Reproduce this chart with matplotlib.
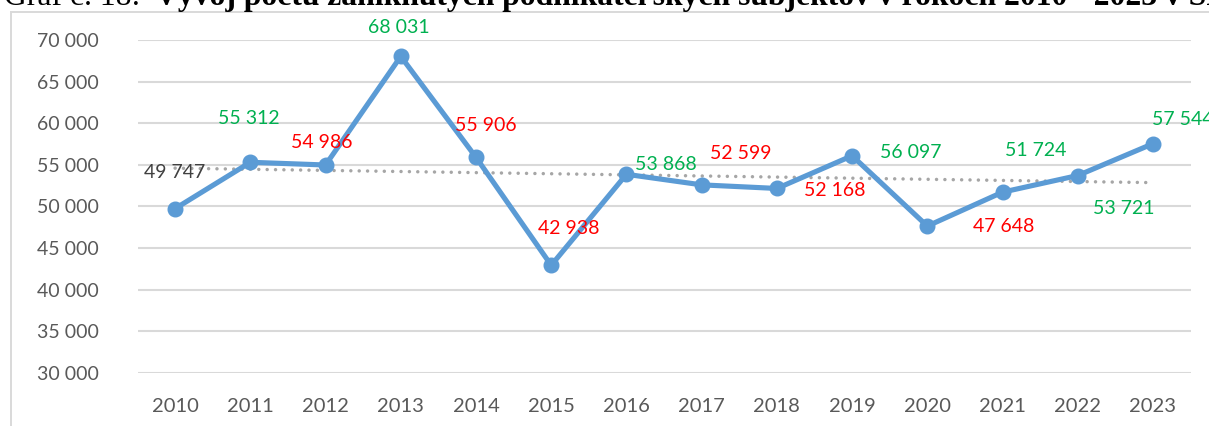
import matplotlib
matplotlib.use("Agg")
import matplotlib.pyplot as plt
import numpy as np
from matplotlib.patches import Rectangle

years = ["2010", "2011", "2012", "2013", "2014", "2015", "2016",
         "2017", "2018", "2019", "2020", "2021", "2022", "2023"]
values = [49747, 55312, 54986, 68031, 55906, 42938, 53868,
          52599, 52168, 56097, 47648, 51724, 53721, 57544]
label_colors = ["#404040", "#00B050", "#FF0000", "#00B050", "#FF0000", "#FF0000", "#00B050",
                "#FF0000", "#FF0000", "#00B050", "#FF0000", "#00B050", "#00B050", "#00B050"]
# label offsets in pixels (dx, dy)
label_offsets = [(0, 36), (-2, 44), (-4, 22), (-2, 29), (10, 32), (18, 37), (39, 10),
                 (39, 31), (58, -2), (59, 3), (76, 0), (33, 42), (46, -33), (30, 24)]
yticks = [30000, 35000, 40000, 45000, 50000, 55000, 60000, 65000, 70000]

W, H = 1209, 426
fig = plt.figure(figsize=(W / 100, H / 100), dpi=100)
fontfam = ["Lato", "DejaVu Sans"]

# chart border
fig.patches.append(Rectangle((11 / W, -0.1), 1.2, 1 - 12 / H + 0.1, transform=fig.transFigure,
                             fill=False, edgecolor="#D9D9D9", linewidth=1.4, zorder=0))

# title (cut off at top)
title_size = 22.8
fig.text(4 / W, 1 - 4.7 / H, "Graf č. 18:", family="Liberation Serif", fontsize=title_size,
         va="baseline", ha="left", color="black")
fig.text(155 / W, 1 - 4.7 / H,
         "Vývoj počtu zaniknutých podnikateľských subjektov v rokoch 2010 - 2023 v SR",
         family="Liberation Serif", fontsize=title_size, fontweight="bold", va="baseline",
         ha="left", color="black")

ax = fig.add_axes([137.5 / W, 1 - 373 / H, (1190.6 - 137.5) / W, (373 - 40) / H])
x = np.arange(len(years))
ax.set_xlim(-0.5, len(years) - 0.5)
ax.set_ylim(30000, 70000)
ax.set_yticks(yticks)
ax.set_yticklabels([f"{v:,}".replace(",", " ") for v in yticks])
ax.set_xticks(x)
ax.set_xticklabels(years)
for s in ax.spines.values():
    s.set_visible(False)
ax.tick_params(axis="both", length=0, labelsize=14, labelcolor="#595959")
ax.tick_params(axis="x", labelsize=14.5, pad=18)
ax.tick_params(axis="y", pad=28)
for lab in ax.get_xticklabels() + ax.get_yticklabels():
    lab.set_family(fontfam)
ax.grid(axis="y", color="#D9D9D9", linewidth=1.5)
ax.set_axisbelow(True)

# linear trend
coef = np.polyfit(x, values, 1)
trend = np.polyval(coef, x)
ax.plot(x, trend, linestyle=(0, (0.01, 2.4)), color="#A6A6A6", linewidth=2.5,
        dash_capstyle="round", zorder=2)

ax.plot(x, values, color="#5B9BD5", linewidth=3.7, marker="o", markersize=10.5,
        solid_capstyle="round", zorder=3)

for xi, v, c, (dx, dy) in zip(x, values, label_colors, label_offsets):
    ax.annotate(f"{v:,}".replace(",", " "), (xi, v), xytext=(dx, dy), textcoords="offset pixels",
                ha="center", va="center", fontsize=14, color=c, family=fontfam,
                annotation_clip=False, zorder=4)

fig.savefig("out.png", dpi=100)
